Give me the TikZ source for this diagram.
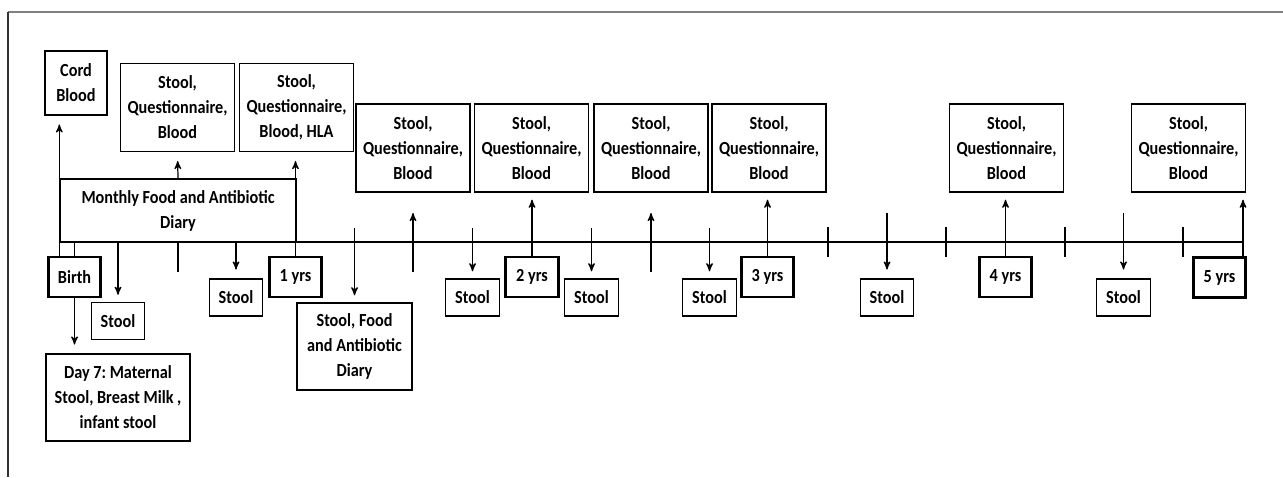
\documentclass[tikz,border=0pt]{standalone}
\usepackage{fontspec}
\setmainfont{Carlito}[FakeStretch=0.88]
\usetikzlibrary{arrows,positioning}

\tikzset{
  box/.style={draw,line width=0.8pt,align=center,inner sep=0pt,
    font=\bfseries\fontsize{10.5}{14.2}\selectfont},
  sqb/.style={box,minimum width=2.28cm,minimum height=1.76cm},
  stoolbox/.style={box,minimum width=1.07cm,minimum height=0.74cm},
  yrbox/.style={box,line width=1.6pt,minimum width=1.05cm,minimum height=0.8cm},
}

\begin{document}
\frenchspacing
\begin{tikzpicture}
    [x=0.02cm,y=-0.02cm,>=stealth',line width=0.7pt]

    \useasboundingbox (0,0) rectangle (1283,477);
    % frame
    \draw[gray,line width=1.3pt] (8,12) -- (1283,12);
    \draw[black!80,line width=0.9pt] (8,12) -- (8,477);

    % levels on the time line
    \coordinate (tl) at (60,242);
    \coordinate (tr) at (1243,242);
    \coordinate (hi) at (0,213);
    \coordinate (mid) at (0,228);
    \coordinate (lo) at (0,272);

    % boxes above
    \node[box,minimum width=1.24cm,minimum height=1.28cm] (cord) at (76,83) {Cord\\Blood};
    \node[sqb] (sqb1) at (177.5,107.5) {Stool,\\Questionnaire,\\Blood};
    \node[sqb] (sqbh) at (296.5,107.5) {Stool,\\Questionnaire,\\Blood, HLA};
    \node[sqb] (sqb3) at (413,148) {Stool,\\Questionnaire,\\Blood};
    \node[sqb] (sqb4) at (531.5,148) {Stool,\\Questionnaire,\\Blood};
    \node[sqb] (sqb5) at (651,148) {Stool,\\Questionnaire,\\Blood};
    \node[sqb] (sqb6) at (769,148) {Stool,\\Questionnaire,\\Blood};
    \node[sqb] (sqb7) at (1006.5,148) {Stool,\\Questionnaire,\\Blood};
    \node[sqb] (sqb8) at (1188.5,148) {Stool,\\Questionnaire,\\Blood};
    \node[box,minimum width=4.72cm,minimum height=1.26cm] (diary) at (178,210.5)
      {Monthly Food and Antibiotic\\Diary};

    % boxes below
    \node[yrbox] (birth) at (74.5,277) {Birth};
    \node[yrbox] (y1) at (295.5,277) {1 yrs};
    \node[yrbox] (y2) at (532,277) {2 yrs};
    \node[yrbox] (y3) at (767.5,277) {3 yrs};
    \node[yrbox] (y4) at (1005.5,277) {4 yrs};
    \node[yrbox] (y5) at (1219.5,277.5) {5 yrs};
    \node[stoolbox] (st1) at (118,321) {Stool};
    \node[stoolbox] (st2) at (236,297.5) {Stool};
    \node[stoolbox] (st3) at (472.5,297.5) {Stool};
    \node[stoolbox] (st4) at (591.5,297.5) {Stool};
    \node[stoolbox] (st5) at (709.5,297.5) {Stool};
    \node[stoolbox] (st6) at (887,297.5) {Stool};
    \node[stoolbox] (st7) at (1123.5,297.5) {Stool};
    \node[box,minimum width=2.88cm,minimum height=1.74cm] (day7) at (118,397.5)
      {Day 7: Maternal\\Stool, Breast Milk ,\\infant stool};
    \node[box,minimum width=2.3cm,minimum height=1.74cm] (sfd) at (354.5,346.5)
      {Stool, Food\\and Antibiotic\\Diary};

    % time line
    \draw (tl) -- (tr);
    \foreach \x in {828,946,1065,1183}
      \draw (\x,227) -- (\x,257);
    \draw (diary.south) -- (diary.south |- lo);

    % first year
    \draw[->,shorten >=5pt] (birth.north -| diary.west) -- (cord.south -| diary.west);
    \draw (birth.north) -- (birth.north |- tl);
    \draw[->,shorten >=5pt] (birth.south) -- (birth.south |- day7.north);
    \draw[->,shorten >=4pt] (st1.north |- tl) -- (st1.north);
    \draw[->,shorten >=5pt] (st2.north |- tl) -- (st2.north);
    \draw[->,shorten >=5pt] (diary.north) -- (sqb1.south);
    \draw[->,shorten >=5pt] (y1.north) -- (y1.north |- sqbh.south);

    % down arrows
    \foreach \n in {sfd,st3,st4,st5}
      \draw[->,shorten >=4pt] (\n.north |- mid) -- (\n.north);
    \foreach \n in {st6,st7}
      \draw[->,shorten >=5pt] (\n.north |- hi) -- (\n.north);

    % up arrows
    \foreach \n in {sqb3,sqb5}
      \draw[->] (\n.south |- lo) -- (\n.south |- hi);
    \draw[->,shorten >=4pt] (y2.north) -- (y2.north |- sqb4.south);
    \draw[->,shorten >=4pt] (y3.north) -- (y3.north |- sqb6.south);
    \draw[->,shorten >=4pt] (y4.north) -- (y4.north |- sqb7.south);
    \draw[->,shorten >=4pt] (y5.north -| tr) -- (sqb8.south -| tr);

  \end{tikzpicture}
\end{document}
